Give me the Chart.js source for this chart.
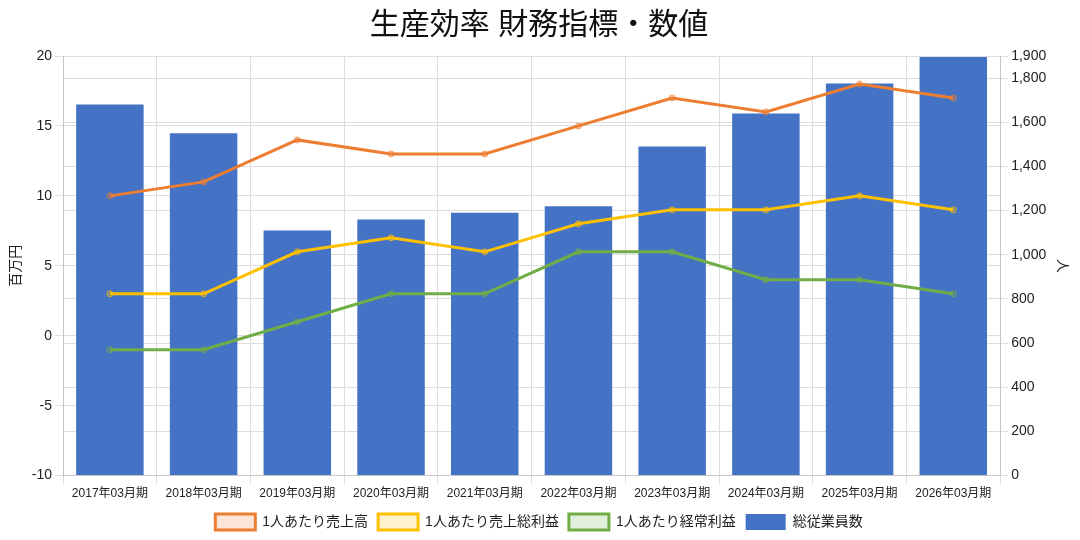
<!DOCTYPE html>
<html lang="ja">
<head>
    <meta charset="UTF-8">
    <title>生産効率 財務指標・数値</title>
    <script src="https://cdn.jsdelivr.net/npm/chart.js@4/dist/chart.umd.min.js"></script>
    <style>
        body { margin: 0; background: #fff; }
        #wrap { width: 1080px; height: 540px; }
    </style>
</head>
<body>
    <div id="wrap"><canvas id="chart1"></canvas></div>
    <script>
        const labels = ["2017年03月期", "2018年03月期", "2019年03月期", "2020年03月期", "2021年03月期",
                        "2022年03月期", "2023年03月期", "2024年03月期", "2025年03月期", "2026年03月期"];
        const sales = [10, 11, 14, 13, 13, 15, 17, 16, 18, 17];
        const grossProfit = [3, 3, 6, 7, 6, 8, 9, 9, 10, 9];
        const ordinaryProfit = [-1, -1, 1, 3, 3, 6, 6, 4, 4, 3];
        const employees = [1680, 1550, 1110, 1160, 1190, 1220, 1490, 1640, 1775, 1895];

        Chart.defaults.font.family = "'Liberation Sans', 'Noto Sans CJK JP', sans-serif";
        Chart.defaults.color = "#222";

        function line(label, data, rgb) {
            return {
                type: "line",
                label: label,
                data: data,
                yAxisID: "y",
                borderColor: `rgb(${rgb})`,
                backgroundColor: `rgba(${rgb},0.2)`,
                pointBackgroundColor: `rgba(${rgb},0.3)`,
                pointBorderColor: `rgba(${rgb},0.7)`,
                borderWidth: 3,
                pointRadius: 3,
                pointBorderWidth: 1,
                tension: 0,
                order: 1
            };
        }

        new Chart("chart1", {
            type: "bar",
            data: {
                labels: labels,
                datasets: [
                    line("1人あたり売上高", sales, "237,125,49"),
                    line("1人あたり売上総利益", grossProfit, "255,192,0"),
                    line("1人あたり経常利益", ordinaryProfit, "112,173,71"),
                    {
                        type: "bar",
                        label: "総従業員数",
                        data: employees,
                        yAxisID: "y1",
                        backgroundColor: "#4472c4",
                        borderColor: "#4472c4",
                        order: 2
                    }
                ]
            },
            options: {
                responsive: true,
                maintainAspectRatio: false,
                animation: false,
                layout: { padding: { left: 4, right: 6, top: 0, bottom: 0 } },
                plugins: {
                    title: {
                        display: true,
                        text: "生産効率 財務指標・数値",
                        font: { size: 30, weight: "normal" },
                        color: "#111",
                        padding: { top: 8, bottom: 12 }
                    },
                    legend: {
                        position: "bottom",
                        labels: {
                            font: { size: 14 },
                            boxWidth: 40,
                            boxHeight: 16,
                            padding: 10
                        }
                    }
                },
                scales: {
                    x: {
                        ticks: { font: { size: 12 }, maxRotation: 0 },
                        grid: { color: "#ddd" }
                    },
                    y: {
                        position: "left",
                        min: -10,
                        max: 20,
                        ticks: { stepSize: 5, font: { size: 14 } },
                        grid: { color: "#ddd" },
                        title: { display: true, text: "百万円", font: { size: 14 } }
                    },
                    y1: {
                        position: "right",
                        min: 0,
                        max: 1900,
                        ticks: { stepSize: 200, font: { size: 14 } },
                        grid: { color: "#ddd" },
                        title: { display: true, text: "人", font: { size: 14 } }
                    }
                }
            }
        });
    </script>
</body>
</html>
